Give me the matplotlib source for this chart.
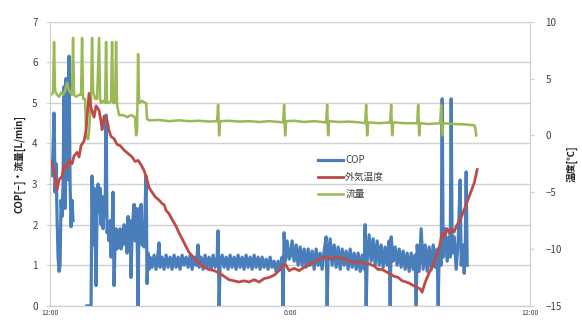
import numpy as np
import matplotlib.pyplot as plt

# hours since 12:00 (0 = 12:00, 12 = 0:00, 24 = 12:00)
cop_t = [0.05, 0.10, 0.15, 0.20, 0.25, 0.30, 0.35, 0.40, 0.45, 0.50, 0.55, 0.60,
         0.65, 0.70, 0.75, 0.80, 0.85, 0.90, 0.95, 1.00, 1.05, 1.10, 1.15, 1.20,
         1.85, 2.05, 2.10, 2.15, 2.20, 2.25, 2.30, 2.35, 2.40, 2.45, 2.50, 2.55,
         2.60, 2.65, 2.70, 2.75, 2.80, 2.85, 2.90, 2.95, 3.00, 3.05, 3.10, 3.15,
         3.20, 3.25, 3.30, 3.35, 3.40, 3.45, 3.50, 3.55, 3.60, 3.65, 3.70, 3.75,
         3.80, 3.85, 3.90, 3.95, 4.00, 4.05, 4.10, 4.15, 4.20, 4.25, 4.30, 4.35,
         4.40, 4.45, 4.50, 4.55, 4.60, 4.65, 4.70, 4.75, 4.80, 4.85, 4.90, 4.95,
         5.0, 5.1, 5.2, 5.3, 5.4, 5.45, 5.5, 5.6, 5.7, 5.8, 5.9, 6.0, 6.1, 6.2,
         6.3, 6.4, 6.5, 6.6, 6.7, 6.8, 6.9, 7.0, 7.1, 7.2, 7.3, 7.4, 7.45, 7.55,
         7.65, 7.75, 7.85, 7.95, 8.05, 8.15, 8.25, 8.35, 8.4, 8.45, 8.5, 8.6,
         8.7, 8.8, 8.9, 9.0, 9.1, 9.2, 9.3, 9.4, 9.5, 9.6, 9.7, 9.8, 9.9, 10.0,
         10.1, 10.2, 10.3, 10.4, 10.5, 10.6, 10.7, 10.8, 10.9, 11.0, 11.1, 11.2,
         11.3, 11.4, 11.5, 11.6, 11.65, 11.7, 11.75, 11.85, 11.95,
         12.0, 12.1, 12.2, 12.3, 12.4, 12.5, 12.6, 12.7, 12.8, 12.9, 13.0, 13.1,
         13.2, 13.3, 13.4, 13.5, 13.6, 13.7, 13.8, 13.85, 13.9, 14.0, 14.1, 14.2,
         14.3, 14.4, 14.5, 14.6, 14.7, 14.8, 14.9, 15.0, 15.1, 15.2, 15.3, 15.4,
         15.5, 15.6, 15.7, 15.75, 15.8, 15.85, 15.95, 16.05, 16.15, 16.25, 16.35,
         16.45, 16.55, 16.65, 16.75, 16.85, 16.95, 17.0, 17.05, 17.15, 17.25,
         17.35, 17.45, 17.55, 17.65, 17.75, 17.85, 17.95, 18.05, 18.15, 18.25,
         18.3, 18.35, 18.45, 18.55, 18.65, 18.75, 18.85, 18.95, 19.05, 19.15,
         19.25, 19.35, 19.4, 19.45, 19.55, 19.6, 19.65, 19.75, 19.85, 19.95,
         20.0, 20.05, 20.1, 20.2, 20.3, 20.4, 20.5, 20.55, 20.65, 20.7, 20.75,
         20.8, 20.85]
cop_v = [3.6, 3.2, 3.9, 4.75, 2.8, 3.5, 2.2, 1.2, 0.85, 1.0, 2.6, 2.2,
         3.0, 5.4, 2.4, 5.6, 3.1, 4.0, 6.15, 3.0, 1.95, 2.6, 2.1, np.nan,
         0.0, 0.0, 3.2, 1.5, 2.9, 2.0, 0.5, 2.4, 3.0, 2.3, 2.9, 2.0,
         2.7, 1.9, 2.5, 2.2, 4.7, 1.8, 2.0, 1.6, 2.1, 1.2, 1.9, 2.8,
         0.5, 1.6, 1.9, 1.4, 1.8, 1.5, 1.9, 1.4, 1.8, 1.5, 2.0, 1.6,
         1.9, 1.3, 2.2, 1.5, 2.1, 0.7, 1.8, 2.2, 2.5, 1.6, 2.4, 1.9,
         0.0, 2.4, 2.0, 2.5, 1.5, 2.0, 1.45, 2.4, 3.2, 0.55, 1.3, 0.9,
         1.2, 0.95, 1.25, 0.9, 1.3, 1.55, 0.95, 1.2, 0.9, 1.25, 0.95, 1.2, 0.9, 1.25,
         0.95, 1.2, 0.9, 1.25, 1.0, 1.2, 0.95, 1.25, 0.9, 1.2, 1.0, 1.5, 0.95, 1.2,
         0.9, 1.25, 0.95, 1.2, 0.9, 1.25, 0.95, 1.2, 1.85, 0.0, 1.0, 1.25,
         0.95, 1.2, 0.9, 1.25, 0.95, 1.2, 0.9, 1.25, 0.95, 1.2, 0.9, 1.25, 0.95, 1.2,
         0.9, 1.25, 0.95, 1.2, 0.9, 1.2, 0.95, 1.15, 0.9, 1.2, 0.95, 1.1,
         0.85, 1.1, 0.9, 1.2, 0.0, 1.8, 1.1, 1.6, 1.15,
         1.2, 1.6, 1.1, 1.5, 1.0, 1.45, 1.0, 1.4, 0.95, 1.4, 1.0, 1.35,
         0.9, 1.4, 1.0, 1.3, 0.9, 1.35, 1.7, 0.0, 1.2, 1.65, 1.0, 1.5,
         0.95, 1.45, 0.9, 1.4, 1.0, 1.35, 0.9, 1.4, 0.95, 1.3, 0.9, 1.3,
         0.85, 1.25, 0.9, 2.0, 0.0, 1.1, 1.75, 1.1, 1.65, 1.0, 1.6,
         1.0, 1.5, 0.95, 1.45, 1.0, 1.6, 0.0, 1.7, 1.1, 1.45,
         1.0, 1.4, 0.95, 1.35, 0.9, 1.3, 0.85, 1.3, 0.9, 1.25,
         0.0, 1.5, 0.85, 1.9, 0.9, 1.5, 0.85, 1.45, 0.9, 1.5,
         0.95, 1.4, 0.0, 1.3, 1.0, 5.1, 1.2, 1.9, 1.1, 1.7,
         1.2, 5.1, 1.3, 1.7, 0.9, 1.6, 3.1, 1.0, 1.5, 0.8, 1.3,
         3.3, 1.0]

temp_t = [0.05, 0.2, 0.35, 0.45, 0.6, 0.7, 0.85, 0.95, 1.1, 1.2, 1.35, 1.45,
          1.55, 1.7, 1.8, 1.85, 1.95, 2.05, 2.2, 2.3, 2.45, 2.55, 2.6, 2.7,
          2.85, 2.95, 3.05, 3.2, 3.35, 3.5, 3.7, 3.9, 4.1, 4.25, 4.4, 4.55,
          4.7, 4.85, 4.95, 5.1, 5.25, 5.45, 5.6, 5.7, 5.8, 5.95, 6.1, 6.3,
          6.45, 6.6, 6.8, 6.95, 7.1, 7.3, 7.45, 7.7, 7.95, 8.2, 8.45, 8.7,
          8.95, 9.2, 9.45, 9.7, 9.95, 10.2, 10.45, 10.7, 10.95, 11.2, 11.45,
          11.6, 11.75, 11.95, 12.2, 12.45, 12.7, 12.95, 13.1, 13.35, 13.55,
          13.8, 14.05, 14.3, 14.6, 14.85, 15.05, 15.3, 15.55, 15.75, 15.95,
          16.2, 16.4, 16.6, 16.8, 17.0, 17.2, 17.4, 17.6, 17.8, 17.95, 18.15,
          18.35, 18.5, 18.6, 18.7, 18.8, 18.95, 19.1, 19.25, 19.4, 19.5, 19.6,
          19.7, 19.85, 19.95, 20.1, 20.2, 20.3, 20.45, 20.6, 20.75, 20.9,
          21.05, 21.2, 21.3, 21.35]
temp_v = [-2.3, -3.2, -4.8, -3.9, -3.6, -2.6, -2.9, -2.2, -2.5, -1.8, -1.5, -1.9,
          -0.9, -0.5, 0.4, 1.6, 3.7, 2.4, 1.6, 2.6, 2.2, 1.2, 0.5, 1.7,
          1.3, 0.4, -0.1, -0.3, -0.8, -0.9, -1.3, -1.6, -1.9, -2.3, -2.2, -2.6,
          -3.1, -3.9, -4.6, -5.0, -5.4, -5.7, -6.0, -6.1, -6.6, -6.9, -7.4, -8.0,
          -8.6, -9.1, -9.8, -10.3, -10.6, -11.0, -11.2, -11.6, -11.8, -11.9, -12.1, -12.4,
          -12.7, -12.8, -12.9, -12.8, -12.9, -12.7, -12.9, -12.6, -12.5, -12.3, -11.9,
          -11.5, -11.3, -11.9, -11.7, -11.9, -11.6, -11.4, -11.2, -11.0, -10.8,
          -10.7, -10.9, -10.7, -10.8, -11.0, -11.1, -11.2, -11.1, -11.3, -11.3,
          -11.5, -11.8, -11.8, -12.0, -12.2, -12.4, -12.5, -12.8, -12.9, -13.0, -13.2,
          -13.4, -13.5, -13.8, -13.2, -12.7, -12.1, -11.6, -10.9, -10.3, -9.5, -8.6,
          -8.9, -8.2, -8.6, -8.3, -8.5, -8.0, -7.6, -7.0, -6.3, -5.6,
          -4.9, -4.2, -3.4, -3.0]

flow_t = [0.05, 0.15, 0.2, 0.25, 0.35, 0.45, 0.55, 0.65, 0.75, 0.85, 0.95, 1.05,
          1.1, 1.15, 1.2, 1.3, 1.45, 1.55, 1.6, 1.65, 1.75, 1.8, 1.9, 1.95,
          2.05, 2.1, 2.15, 2.25, 2.35, 2.45, 2.5, 2.55, 2.65, 2.75, 2.8, 2.85,
          2.95, 3.05, 3.1, 3.15, 3.25, 3.3, 3.35, 3.45, 3.65, 3.85, 4.05, 4.25,
          4.3, 4.35, 4.4, 4.45, 4.6, 4.75, 4.8, 4.85, 4.95, 5.45, 5.95, 6.45,
          6.95, 7.45, 7.95, 8.35, 8.4, 8.45, 8.5, 8.95, 9.45, 9.95, 10.45,
          10.95, 11.45, 11.65, 11.7, 11.75, 11.8, 12.2, 12.7, 13.2, 13.8, 13.85,
          13.9, 13.95, 14.45, 14.95, 15.45, 15.75, 15.8, 15.85, 15.9, 16.45,
          17.0, 17.05, 17.1, 17.15, 17.7, 18.35, 18.4, 18.45, 18.5, 18.95,
          19.5, 19.55, 19.6, 19.65, 20.2, 20.7, 21.2, 21.25, 21.3]
flow_v = [5.2, 5.25, 6.5, 5.3, 5.2, 5.15, 5.25, 5.2, 5.3, 5.5, 5.3, 5.25,
          5.2, 6.6, 5.2, 5.15, 5.2, 5.2, 6.6, 5.1, 5.1, 4.2, 4.1, 4.3,
          5.1, 6.6, 5.3, 5.1, 5.1, 6.6, 5.1, 5.0, 5.05, 5.0, 6.5, 5.0,
          5.0, 5.05, 6.5, 5.0, 5.0, 6.5, 4.95, 4.7, 4.7, 4.65, 4.7, 4.65,
          4.2, 4.3, 6.2, 5.0, 5.05, 5.0, 5.0, 4.6, 4.57, 4.58, 4.55, 4.57,
          4.55, 4.56, 4.54, 4.55, 4.95, 4.2, 4.55, 4.56, 4.54, 4.55, 4.53,
          4.55, 4.53, 4.52, 4.95, 4.2, 4.55, 4.56, 4.53, 4.55, 4.52, 4.95,
          4.2, 4.55, 4.53, 4.54, 4.52, 4.5, 4.95, 4.2, 4.52, 4.5,
          4.52, 4.95, 4.2, 4.52, 4.5, 4.5, 4.95, 4.2, 4.5, 4.48,
          4.5, 4.95, 4.2, 4.5, 4.48, 4.47, 4.45, 4.4, 4.2]

x_ticks = [0, 12, 24]
x_labels = ["12:00", "0:00", "12:00"]

C_BLUE = "#4a7ebb"
C_RED = "#be4b48"
C_GREEN = "#98b954"
C_GRID = "#d0d0d0"
C_TEXT = "#404040"

plt.rcParams["font.family"] = ["Noto Sans CJK JP", "DejaVu Sans"]

fig = plt.figure(figsize=(5.82, 3.24), dpi=100)
ax = fig.add_axes([0.086, 0.056, 0.825, 0.877])
ax2 = ax.twinx()

l_cop, = ax.plot(cop_t, cop_v, color=C_BLUE, lw=2.3, label="COP")
l_flow, = ax.plot(flow_t, flow_v, color=C_GREEN, lw=1.8, label="流量")
l_temp, = ax2.plot(temp_t, temp_v, color=C_RED, lw=2.0, label="外気温度")

ax.set_xlim(0, 24)
ax.set_ylim(0, 7)
ax2.set_ylim(-15, 10)
ax.set_yticks(range(0, 8))
ax2.set_yticks(range(-15, 11, 5))
ax.set_xticks(x_ticks)
ax.set_xticklabels(x_labels)

ax.grid(axis="y", color=C_GRID, lw=1.0)
ax.set_axisbelow(True)
for a in (ax, ax2):
    a.spines["top"].set_visible(False)
    for s in ("left", "right", "bottom"):
        a.spines[s].set_color(C_GRID)
ax.tick_params(axis="y", labelsize=7, colors=C_TEXT, length=3, color=C_GRID, pad=6)
ax2.tick_params(axis="y", labelsize=7, colors=C_TEXT, length=3, color=C_GRID, pad=8)
ax.tick_params(axis="x", labelsize=5, colors=C_TEXT, length=0, pad=2)

ax.set_ylabel("COP[−]・流量[L/min]", fontsize=7, fontweight="bold", color="#202020", labelpad=5)
ax2.set_ylabel("温度[℃]", fontsize=7, fontweight="bold", color="#202020", labelpad=3)

ax.legend(handles=[l_cop, l_temp, l_flow], loc="upper left",
          bbox_to_anchor=(0.54, 0.56), frameon=False, fontsize=7,
          handlelength=2.6, handletextpad=0.2, labelspacing=0.7,
          labelcolor=C_TEXT)

fig.savefig("out.png", dpi=100)
